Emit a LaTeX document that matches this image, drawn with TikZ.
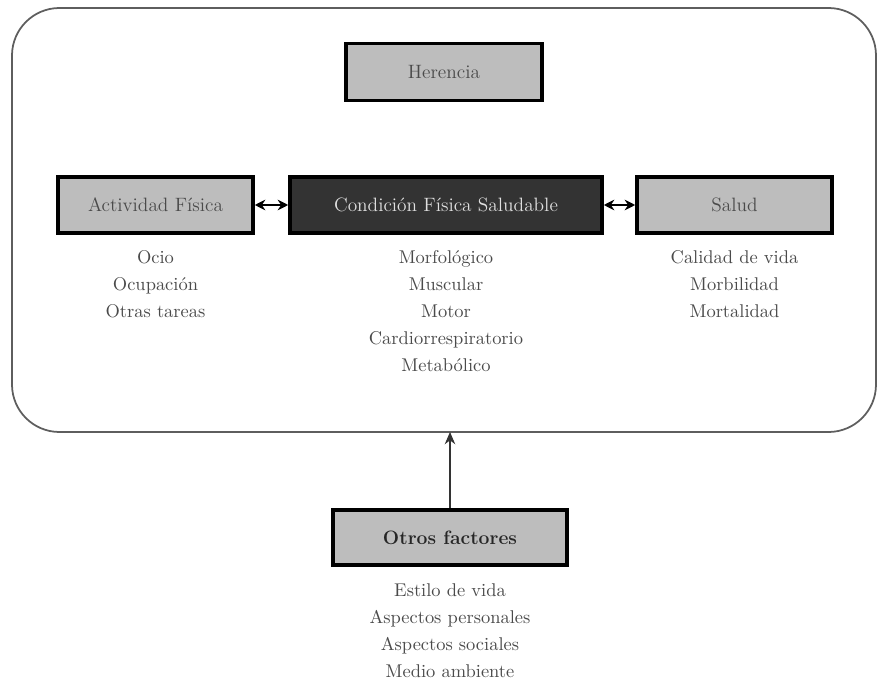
\documentclass[tikz,border=0pt]{standalone}
\usetikzlibrary{arrows.meta}

\definecolor{boxgray}{HTML}{BDBDBD}
\definecolor{darkbox}{HTML}{333333}
\definecolor{textgray}{HTML}{4A4A4A}
\definecolor{framegray}{HTML}{5E5E5E}

\tikzset{
  graybox/.style={draw=black, line width=2pt, fill=boxgray, text=textgray,
    inner sep=0pt, font=\fontsize{11}{13}\selectfont},
  darkbox/.style={graybox, fill=darkbox, text=white!88!black},
  itemlist/.style={anchor=north, align=center, text=textgray, inner sep=0pt,
    font=\fontsize{10.5}{15.4}\selectfont},
  biarrow/.style={{Stealth[length=6pt,width=6pt]}-{Stealth[length=6pt,width=6pt]}, line width=0.9pt}
}

\begin{document}
\begin{tikzpicture}[x=0.2mm, y=-0.2mm]

\useasboundingbox (0,0) rectangle (878,688);

\draw [framegray, line width=1pt, rounded corners=9.5mm] (12,8) rectangle (876,432);

\node [graybox, minimum width=196*0.2mm, minimum height=57*0.2mm] (herencia) at (444,72) {Herencia};
\node [graybox, minimum width=195*0.2mm, minimum height=56*0.2mm] (actividad) at (155.5,205) {Actividad F\'isica};
\node [darkbox, minimum width=312*0.2mm, minimum height=56*0.2mm] (condicion) at (446,205) {Condici\'on F\'isica Saludable};
\node [graybox, minimum width=195*0.2mm, minimum height=56*0.2mm] (salud) at (734.5,205) {Salud};
\node [graybox, text=black!85, font=\fontsize{11}{13}\selectfont\bfseries, minimum width=234*0.2mm, minimum height=55*0.2mm] (otros) at (450,537.5) {Otros factores};
\coordinate (frame) at (450,432);

\draw [biarrow] (actividad) -- (condicion);
\draw [biarrow] (condicion) -- (salud);
\draw [-{Stealth[length=7pt,width=6pt]}, line width=0.6pt, black!80] (otros) -- (frame);

\node [itemlist] (actlist) at (155.5,250) {Ocio\\Ocupaci\'on\\Otras tareas};
\node [itemlist] (condlist) at (446,250) {Morfol\'ogico\\Muscular\\Motor\\Cardiorrespiratorio\\Metab\'olico};
\node [itemlist] (saludlist) at (734.5,250) {Calidad de vida\\Morbilidad\\Mortalidad};
\node [itemlist] (otroslist) at (450,583) {Estilo de vida\\Aspectos personales\\Aspectos sociales\\Medio ambiente};

\end{tikzpicture}
\end{document}
